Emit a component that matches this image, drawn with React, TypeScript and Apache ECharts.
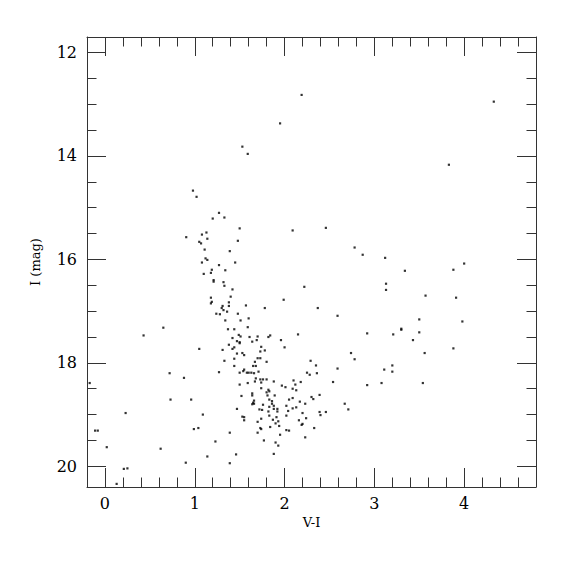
import React, { useEffect, useRef } from "react";
import * as echarts from "echarts";

// Colour-magnitude diagram: [V-I, I (mag)]
const brightStars: number[][] = [
  [2.19, 12.82], [4.33, 12.95], [1.95, 13.37], [1.53, 13.82], [1.59, 13.96],
  [3.83, 14.17], [0.98, 14.67], [1.02, 14.79],
];

const giantBranch: number[][] = [
  [1.27, 15.1], [1.2, 15.21], [1.33, 15.19], [1.5, 15.4], [0.905, 15.57],
  [1.08, 15.52], [1.13, 15.48], [1.14, 15.6], [1.05, 15.66], [1.07, 15.69],
  [1.48, 15.64], [1.11, 15.81], [1.39, 15.84], [1.12, 15.98], [1.14, 16.01],
  [1.08, 16.06], [1.45, 16.06], [1.27, 16.11], [1.19, 16.2], [1.18, 16.26],
  [1.34, 16.21], [1.1, 16.28], [1.21, 16.4], [1.21, 16.43], [1.32, 16.44],
  [1.33, 16.51], [1.42, 16.58], [1.4, 16.72], [1.18, 16.74], [1.19, 16.82],
  [1.18, 16.85], [1.38, 16.83], [1.38, 16.9], [1.31, 16.9], [1.3, 16.94],
  [1.32, 16.98], [1.24, 17.05], [1.28, 17.06], [1.36, 17.01], [1.48, 17.05],
  [1.34, 17.18], [0.65, 17.32], [1.37, 17.35], [1.44, 17.35],
];

const redStars: number[][] = [
  [2.09, 15.44], [2.46, 15.39], [2.78, 15.77], [2.87, 15.91], [3.12, 15.97],
  [3.34, 16.22], [3.88, 16.2], [4.0, 16.08], [3.13, 16.47], [3.13, 16.59],
  [3.57, 16.7], [3.91, 16.74], [2.22, 16.53], [1.57, 16.89], [1.78, 16.94],
  [1.99, 16.78], [2.37, 16.94], [2.59, 17.09], [1.51, 17.18], [1.6, 17.14],
  [1.59, 17.31], [3.5, 17.16], [3.98, 17.2], [3.3, 17.34],
  [1.96, 17.56], [2.15, 17.45], [2.0, 17.7], [2.92, 17.43], [3.21, 17.45],
  [3.3, 17.36], [3.5, 17.41], [3.43, 17.56], [3.56, 17.81], [3.88, 17.72],
  [2.74, 17.81], [2.78, 17.93], [2.29, 17.96], [2.35, 18.05], [2.25, 18.19],
  [2.28, 18.23], [2.36, 18.2], [2.59, 18.11], [2.54, 18.37], [3.11, 18.13],
  [3.2, 18.05], [3.2, 18.17], [3.08, 18.39], [2.92, 18.43], [3.54, 18.39],
  [2.67, 18.79], [2.71, 18.9],
];

const blueStars: number[][] = [
  [0.43, 17.47], [1.05, 17.73], [-0.17, 18.39], [0.72, 18.2], [0.88, 18.29],
  [0.73, 18.71], [0.96, 18.71], [0.23, 18.97], [-0.11, 19.31], [-0.08, 19.31],
  [0.99, 19.28], [1.04, 19.26], [0.02, 19.63], [0.62, 19.66], [0.9, 19.93],
  [0.21, 20.05], [0.25, 20.04], [0.13, 20.34], [1.09, 19.0], [1.23, 19.52],
  [1.14, 19.81], [1.39, 19.94], [1.46, 19.77], [1.39, 19.35], [1.27, 18.18],
];

const clumpStars: number[][] = [
  [1.49, 17.46], [1.51, 17.49], [1.42, 17.52], [1.61, 17.5], [1.7, 17.49],
  [1.69, 17.56], [1.84, 17.47], [1.82, 17.5], [1.47, 17.58], [1.5, 17.6],
  [1.5, 17.62], [1.64, 17.59], [1.38, 17.65], [1.44, 17.7], [1.42, 17.73],
  [1.74, 17.69], [1.31, 17.75], [1.78, 17.76], [1.73, 17.78], [1.47, 17.82],
  [1.53, 17.81], [1.55, 17.85], [1.7, 17.91], [1.73, 17.91], [1.44, 17.92],
  [1.33, 17.96], [1.8, 17.98], [1.67, 17.98], [1.44, 18.06], [1.65, 18.06],
  [1.68, 18.06], [1.55, 18.13], [1.54, 18.16], [1.58, 18.19], [1.6, 18.19],
  [1.5, 18.19], [1.63, 18.19], [1.66, 18.2], [1.71, 18.17], [1.68, 18.3],
  [1.76, 18.32], [1.73, 18.32], [1.8, 18.32], [1.67, 18.36], [1.88, 18.36],
  [1.74, 18.38], [1.59, 18.39], [1.5, 18.42], [1.74, 18.49], [1.82, 18.52],
  [1.8, 18.57], [1.83, 18.55], [1.52, 18.64], [1.64, 18.59], [1.64, 18.63],
  [1.81, 18.63], [1.89, 18.63], [1.66, 18.73], [1.65, 18.77], [1.64, 18.8],
  [1.66, 18.79], [1.76, 18.81], [1.72, 18.9], [1.47, 18.89], [1.82, 18.94],
  [1.53, 19.04], [1.55, 19.05], [1.55, 19.11], [1.74, 19.08], [1.75, 18.91],
  [1.73, 19.26], [1.74, 19.28], [1.7, 19.14], [1.7, 19.35], [1.77, 19.5],
  [1.83, 18.71], [1.86, 18.74], [1.86, 18.79], [1.88, 18.83], [1.83, 18.85],
  [1.88, 18.89], [1.92, 18.94], [1.83, 19.02], [1.87, 19.1], [1.91, 19.05],
  [1.93, 19.13], [1.9, 19.17], [1.94, 19.22], [1.84, 19.24], [1.95, 19.39],
  [1.9, 19.54], [1.93, 19.6], [1.88, 19.76], [2.02, 18.83], [2.05, 18.71],
  [2.02, 19.02], [2.04, 18.93], [2.09, 18.88], [2.13, 18.86], [2.02, 19.3],
  [2.05, 19.31], [2.17, 18.75], [2.23, 18.79], [2.2, 18.97], [2.24, 19.07],
  [2.16, 19.11], [2.2, 19.18], [2.19, 19.2], [2.23, 19.44], [2.33, 19.26],
  [2.39, 18.95], [2.46, 18.95], [2.4, 19.01], [1.97, 18.44], [2.01, 18.47],
  [2.1, 18.34], [2.12, 18.42], [2.09, 18.5], [2.13, 18.53], [2.18, 18.37],
  [2.3, 18.66], [2.32, 18.7], [2.39, 18.62], [2.09, 18.68], [1.92, 18.89],
];

const xMajorTicks = [0, 1, 2, 3, 4];
const xMinorTicks = [
  0.2, 0.4, 0.6, 0.8, 1.2, 1.4, 1.6, 1.8, 2.2, 2.4, 2.6, 2.8,
  3.2, 3.4, 3.6, 3.8, 4.2, 4.4, 4.6,
];
const yMajorTicks = [12, 14, 16, 18, 20];
const yMinorTicks = [12.5, 13, 13.5, 14.5, 15, 15.5, 16.5, 17, 17.5, 18.5, 19, 19.5];

const X_MIN = -0.2;
const X_MAX = 4.8;
const Y_MIN = 11.7;
const Y_MAX = 20.4;

const AXIS_COLOR = "#333";
const FONT = "DejaVu Serif";

export default function App() {
  const ref = useRef<HTMLDivElement>(null);

  useEffect(() => {
    if (!ref.current) return;
    const chart = echarts.init(ref.current, undefined, { renderer: "svg" });

    const lineStyle = { color: AXIS_COLOR, width: 1 };

    const xAxis = (position: string, ticks: number[], len: number, major: boolean, isMain: boolean) => ({
      type: "value",
      position,
      min: X_MIN,
      max: X_MAX,
      axisLine: { show: major, onZero: false, lineStyle },
      axisTick: { show: true, inside: true, length: len, customValues: ticks, lineStyle },
      axisLabel: isMain
        ? {
            show: true,
            customValues: xMajorTicks,
            color: "#000",
            fontFamily: FONT,
            fontSize: 16,
            margin: 8,
            formatter: (v: number) => String(Math.round(v)),
          }
        : { show: false },
      splitLine: { show: false },
      ...(isMain
        ? {
            name: "V-I",
            nameLocation: "middle",
            nameGap: 29,
            nameTextStyle: { color: "#000", fontFamily: FONT, fontSize: 13 },
          }
        : {}),
    });

    const yAxis = (position: string, ticks: number[], len: number, major: boolean, isMain: boolean) => ({
      type: "value",
      position,
      inverse: true,
      min: Y_MIN,
      max: Y_MAX,
      axisLine: { show: major, onZero: false, lineStyle },
      axisTick: { show: true, inside: true, length: len, customValues: ticks, lineStyle },
      axisLabel: isMain
        ? {
            show: true,
            customValues: yMajorTicks,
            color: "#000",
            fontFamily: FONT,
            fontSize: 16,
            margin: 10,
            formatter: (v: number) => String(Math.round(v)),
          }
        : { show: false },
      splitLine: { show: false },
      ...(isMain
        ? {
            name: "I (mag)",
            nameLocation: "middle",
            nameGap: 45,
            nameRotate: 90,
            nameTextStyle: { color: "#000", fontFamily: FONT, fontSize: 13 },
          }
        : {}),
    });

    const allStars = [...brightStars, ...giantBranch, ...redStars, ...blueStars, ...clumpStars];

    chart.setOption({
      animation: false,
      backgroundColor: "#fff",
      grid: { left: 87, top: 37, width: 449, height: 450, containLabel: false },
      xAxis: [
        xAxis("bottom", xMajorTicks, 19, true, true),
        xAxis("bottom", xMinorTicks, 9.5, false, false),
        xAxis("top", xMajorTicks, 19, true, false),
        xAxis("top", xMinorTicks, 9.5, false, false),
      ],
      yAxis: [
        yAxis("left", yMajorTicks, 19, true, true),
        yAxis("left", yMinorTicks, 9.5, false, false),
        yAxis("right", yMajorTicks, 19, true, false),
        yAxis("right", yMinorTicks, 9.5, false, false),
      ],
      series: [
        {
          type: "scatter",
          xAxisIndex: 0,
          yAxisIndex: 0,
          data: allStars,
          symbol: "rect",
          symbolSize: 2.2,
          itemStyle: { color: "#000" },
          silent: true,
        },
      ],
    });

    return () => chart.dispose();
  }, []);

  return (
    <div
      ref={ref}
      style={{ position: "fixed", left: 0, top: 0, width: 575, height: 575, background: "#fff" }}
    />
  );
}
